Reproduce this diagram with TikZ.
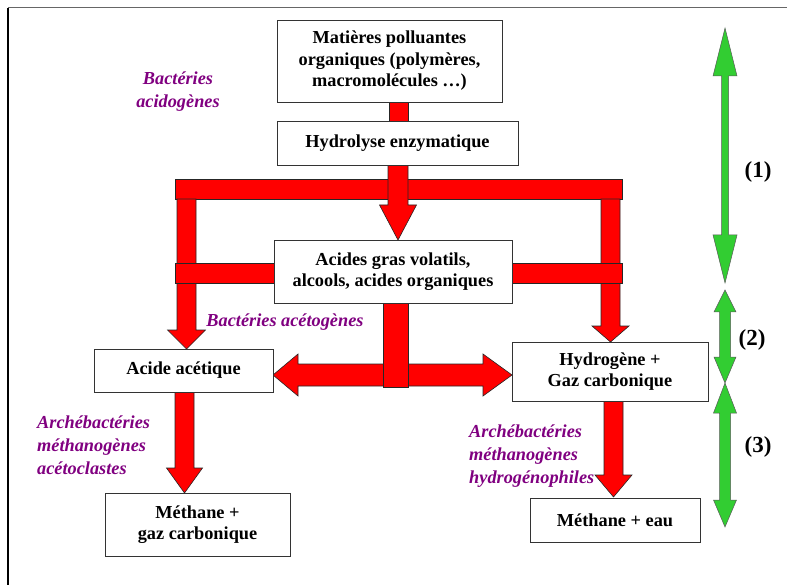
\documentclass[tikz,border=0pt]{standalone}
\usepackage{fontspec}
\setmainfont{Liberation Serif}
\usetikzlibrary{calc}
\definecolor{arrred}{RGB}{255,0,0}
\definecolor{arrgreen}{RGB}{50,205,50}
\definecolor{labpurple}{RGB}{128,0,128}
% #1 style, #2 x, #3 ytop, #4 ybase, #5 ytip, #6 shaft half, #7 head half
\newcommand{\blockdown}[7]{%
  \draw[#1] ({#2-#6},#3) -- ({#2+#6},#3) -- ({#2+#6},#4) -- ({#2+#7},#4) -- (#2,#5)
    -- ({#2-#7},#4) -- ({#2-#6},#4) -- cycle;}
% #1 style, #2 x, #3 ytip1, #4 ybase1, #5 ybase2, #6 ytip2, #7 shaft half, #8 head half
\newcommand{\blockdouble}[8]{%
  \draw[#1] (#2,#3) -- ({#2+#8},#4) -- ({#2+#7},#4) -- ({#2+#7},#5) -- ({#2+#8},#5)
    -- (#2,#6) -- ({#2-#8},#5) -- ({#2-#7},#5) -- ({#2-#7},#4) -- ({#2-#8},#4) -- cycle;}
\begin{document}
\begin{tikzpicture}[x=1pt,y=-1pt,
  box/.style={draw=black!80,line width=0.8pt,fill=white,align=center,
    font=\fontsize{18.3}{21.5}\selectfont\bfseries,inner sep=0pt},
  redshape/.style={fill=arrred,draw=black!85,line width=0.6pt},
  greenshape/.style={fill=arrgreen,draw=black!65,line width=0.5pt},
  lab/.style={font=\fontsize{18.3}{23}\selectfont\bfseries\itshape,text=labpurple,inner sep=0pt},
  num/.style={font=\fontsize{23}{26}\selectfont\bfseries,inner sep=0pt}]
\useasboundingbox (0,0) rectangle (787,585);
% frame
\draw[black!60,line width=1pt] (8,8) -- (787,8);
\draw[black,line width=1.5pt] (8,8) -- (8,585);

% ---------- red block arrows (behind boxes) ----------
\draw[redshape] (389,102) rectangle (408,121);
\draw[redshape] (175,179) rectangle (622,199);
\blockdown{redshape}{398}{165}{205}{240}{10}{18.5}
\blockdown{redshape}{186.5}{199}{330}{349}{9.5}{19}
\draw[redshape] (175,263) rectangle (274,283);
\blockdown{redshape}{610.5}{199}{326}{342}{9.5}{18.5}
\draw[redshape] (512,263) rectangle (622,283);
% horizontal double arrow
\draw[redshape] (273,375) -- (298,354) -- (298,364) -- (483,364) -- (483,354) -- (512,375)
  -- (483,396) -- (483,386) -- (298,386) -- (298,396) -- cycle;
\draw[redshape] (383,303) rectangle (408,387);
\blockdown{redshape}{184.5}{392}{468}{493}{9.5}{18}
\blockdown{redshape}{613.5}{401}{475}{497}{9.5}{18.5}

% ---------- boxes ----------
\node[box,minimum width=225pt,minimum height=82pt] (mat) at (389.5,61)
  {Matières polluantes\\organiques (polymères,\\macromolécules …)};
\node[box,minimum width=241pt,minimum height=44pt] (hyd) at (397.5,143) {Hydrolyse enzymatique};
\node[box,minimum width=238pt,minimum height=63pt] (acides) at (393,271.5)
  {Acides gras volatils,\\alcools, acides organiques};
\node[box,minimum width=179pt,minimum height=43pt] (acet) at (183.5,370.5) {Acide acétique};
\node[box,minimum width=196pt,minimum height=59pt] (htwo) at (610,371.5)
  {Hydrogène +\\Gaz carbonique};
\node[box,minimum width=185pt,minimum height=63pt] (methA) at (197.5,524.5)
  {Méthane +\\gaz carbonique};
\node[box,minimum width=170pt,minimum height=44pt] (methB) at (615,520) {Méthane + eau};

% ---------- purple labels ----------
\node[lab,align=center] (labA) at (178,92) {Bactéries\\acidogènes};
\node[lab] (labB) at (285,322) {Bactéries acétogènes};
\node[lab,align=left,anchor=west] (labC) at (37,445)
  {Archébactéries\\méthanogènes\\acétoclastes};
\node[lab,align=left,anchor=west] (labD) at (469,456)
  {Archébactéries\\méthanogènes\\hydrogénophiles};

% ---------- green phase arrows ----------
\blockdouble{greenshape}{725}{28}{76}{235}{283}{3.5}{12}
\blockdouble{greenshape}{725}{290}{312}{357}{383}{5.5}{11}
\blockdouble{greenshape}{725}{383}{413}{500}{527}{5.5}{11.5}
\node[num] (p1) at (758,172) {(1)};
\node[num] (p2) at (752,340) {(2)};
\node[num] (p3) at (758,447) {(3)};
\end{tikzpicture}
\end{document}
